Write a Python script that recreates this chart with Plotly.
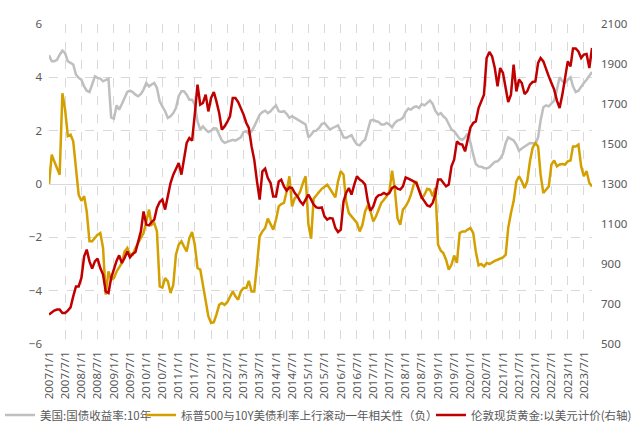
import pandas as pd
import plotly.graph_objects as go

# Monthly observations, 2007/1 .. 2023/10
us10y = [
    4.83, 4.6, 4.6, 4.66, 4.85, 5.0, 4.91, 4.6, 4.54, 4.48,
    4.1, 3.98, 3.91, 3.66, 3.5, 3.45, 3.73, 4.04, 3.98, 3.95,
    3.85, 3.91, 3.95, 2.5, 2.45, 2.95, 2.79, 3.0, 3.23, 3.45,
    3.5, 3.45, 3.35, 3.29, 3.38, 3.54, 3.79, 3.66, 3.73, 3.79,
    3.6, 3.1, 2.91, 2.73, 2.48, 2.54, 2.66, 2.85, 3.29, 3.48,
    3.48, 3.35, 3.16, 3.16, 2.98, 2.35, 2.04, 2.16, 2.04, 1.95,
    2.0, 2.1, 2.08, 1.88, 1.63, 1.54, 1.58, 1.63, 1.66, 1.63,
    1.7, 1.75, 1.95, 1.98, 1.88, 1.98, 2.16, 2.38, 2.6, 2.7,
    2.75, 2.66, 2.73, 2.85, 2.95, 2.73, 2.7, 2.73, 2.63, 2.48,
    2.54, 2.48, 2.41, 2.33, 2.29, 2.23, 1.75, 1.85, 1.98, 2.0,
    2.1, 2.25, 2.29, 2.16, 2.04, 2.1, 2.16, 2.2, 1.98, 1.75,
    1.73, 1.79, 1.83, 1.63, 1.48, 1.45, 1.58, 1.66, 2.04, 2.38,
    2.41, 2.35, 2.33, 2.23, 2.23, 2.29, 2.23, 2.13, 2.29, 2.38,
    2.41, 2.48, 2.7, 2.83, 2.79, 2.88, 2.91, 2.85, 3.0, 2.95,
    3.04, 3.13, 3.0, 2.75, 2.6, 2.66, 2.54, 2.45, 2.25, 2.04,
    1.98, 1.83, 1.7, 1.66, 1.75, 1.88, 1.54, 1.1, 0.75, 0.66,
    0.65, 0.6, 0.58, 0.63, 0.73, 0.83, 0.85, 0.95, 1.13, 1.54,
    1.75, 1.7, 1.63, 1.48, 1.25, 1.33, 1.41, 1.48, 1.54, 1.53,
    1.5, 1.75, 2.38, 2.88, 2.95, 2.91, 3.0, 3.13, 3.54, 4.0,
    3.85, 3.79, 3.91, 4.0, 3.66, 3.45, 3.5, 3.66, 3.79, 3.91, 4.08, 4.2,
]

corr = [
    0.0, 1.1, 0.85, 0.58, 0.35, 3.4, 2.8, 1.8, 1.85, 1.6,
    0.48, -0.4, -0.63, -0.46, -1.03, -2.15, -2.15, -2.0, -1.9, -1.84,
    -2.4, -4.15, -3.28, -3.59, -3.53, -3.28, -3.15, -2.96, -2.53, -2.4,
    -2.63, -2.65, -2.4, -2.21, -2.03, -1.84, -1.4, -0.96, -1.53, -1.46,
    -1.78, -3.84, -3.88, -3.53, -3.65, -4.09, -3.78, -2.65, -2.28, -2.15,
    -2.34, -2.53, -2.03, -1.8, -2.28, -3.15, -3.21, -3.78, -4.46, -4.96,
    -5.21, -5.18, -4.9, -4.53, -4.46, -4.53, -4.43, -4.21, -4.03, -4.21,
    -4.34, -4.03, -3.9, -3.9, -3.63, -4.03, -4.03, -3.03, -1.96, -1.78,
    -1.65, -1.3, -1.5, -1.71, -1.34, -0.84, -0.75, -0.71, -0.28, 0.29,
    -0.84, -0.53, -0.46, -0.28, 0.04, 0.29, -1.5, -2.05, -0.55, -0.4,
    -0.3, -0.18, -0.09, -0.03, -0.18, -0.34, -0.5, 0.1, 0.48, 0.35,
    -0.65, -1.09, -1.21, -1.34, -1.46, -1.78, -1.53, -1.03, -0.8, -1.03,
    -1.4, -1.21, -0.96, -0.71, -0.59, -0.46, -0.28, 0.5, -0.21, -1.28,
    -1.53, -0.96, -0.84, -0.65, -0.4, -0.03, 0.1, -0.21, -0.55, -0.4,
    -0.18, -0.21, -0.46, -0.15, -2.28, -2.5, -2.59, -2.84, -3.21, -3.03,
    -2.68, -2.96, -1.84, -1.78, -1.78, -1.71, -1.65, -1.84, -2.53, -3.05,
    -3.0, -3.09, -2.96, -3.0, -2.93, -2.88, -2.84, -2.78, -2.75, -2.65,
    -1.65, -1.09, -0.65, 0.1, 0.29, 0.1, -0.15, 0.1, 0.85, 1.35,
    1.54, 1.41, 0.35, -0.34, -0.21, -0.09, 0.73, 0.88, 0.66, 0.73,
    0.75, 0.73, 0.85, 0.88, 1.41, 1.41, 1.48, 0.66, 0.29, 0.48, 0.04, -0.09,
]

gold = [
    647, 660, 667, 672, 672, 655, 655, 667, 683, 738,
    788, 788, 830, 938, 972, 913, 877, 913, 927, 880,
    847, 763, 755, 830, 880, 917, 943, 905, 930, 963,
    933, 950, 960, 1013, 1063, 1163, 1097, 1093, 1110, 1122,
    1180, 1210, 1222, 1172, 1247, 1305, 1347, 1377, 1405, 1347,
    1422, 1505, 1530, 1517, 1647, 1797, 1697, 1705, 1747, 1663,
    1730, 1760, 1713, 1655, 1572, 1588, 1610, 1638, 1730, 1730,
    1710, 1680, 1647, 1605, 1580, 1488, 1422, 1313, 1222, 1363,
    1377, 1330, 1305, 1238, 1238, 1313, 1322, 1288, 1267, 1283,
    1280, 1255, 1238, 1213, 1197, 1222, 1247, 1222, 1197, 1183,
    1180, 1183, 1138, 1122, 1130, 1127, 1080, 1060, 1072, 1213,
    1255, 1280, 1247, 1297, 1338, 1322, 1313, 1297, 1213, 1167,
    1188, 1230, 1243, 1247, 1255, 1247, 1255, 1280, 1288, 1277,
    1272, 1288, 1333, 1327, 1322, 1313, 1305, 1272, 1233, 1213,
    1193, 1188, 1205, 1247, 1322, 1322, 1305, 1288, 1297, 1388,
    1422, 1513, 1500, 1497, 1463, 1522, 1583, 1605, 1613, 1680,
    1717, 1747, 1930, 1960, 1938, 1880, 1788, 1880, 1855, 1767,
    1710, 1747, 1897, 1763, 1822, 1805, 1750, 1763, 1797, 1810,
    1813, 1905, 1930, 1913, 1872, 1838, 1805, 1772, 1717, 1680,
    1747, 1822, 1913, 1888, 1977, 1977, 1963, 1930, 1947, 1950, 1880, 1980,
]

tick_labels = [
    "2007/1/1", "2007/7/1", "2008/1/1", "2008/7/1", "2009/1/1", "2009/7/1",
    "2010/1/1", "2010/7/1", "2011/1/1", "2011/7/1", "2012/1/1", "2012/7/1",
    "2013/1/1", "2013/7/1", "2014/1/1", "2014/7/1", "2015/1/1", "2015/7/1",
    "2016/1/1", "2016/7/1", "2017/1/1", "2017/7/1", "2018/1/1", "2018/7/1",
    "2019/1/1", "2019/7/1", "2020/1/1", "2020/7/1", "2021/1/1", "2021/7/1",
    "2022/1/1", "2022/7/1", "2023/1/1", "2023/7/1",
]

names = ["美国:国债收益率:10年", "标普500与10Y美债利率上行滚动一年相关性（负）", "伦敦现货黄金:以美元计价(右轴)"]
colors = ["#BFBFBF", "#D4A000", "#C00000"]

dates = pd.date_range("2007-01-01", periods=len(us10y), freq="MS")
tick_vals = pd.to_datetime(tick_labels, format="%Y/%m/%d")

fig = go.Figure()
fig.add_trace(go.Scatter(x=dates, y=us10y, name=names[0], mode="lines", legend="legend",
                         line=dict(color=colors[0], width=2.5)))
fig.add_trace(go.Scatter(x=dates, y=corr, name=names[1], mode="lines", legend="legend2",
                         line=dict(color=colors[1], width=2.5)))
fig.add_trace(go.Scatter(x=dates, y=gold, name=names[2], mode="lines", yaxis="y2", legend="legend3",
                         line=dict(color=colors[2], width=2.5)))

W, H = 634, 425
tick_font = dict(family="Noto Sans", size=11.5, color="#595959")
leg_common = dict(orientation="h", xref="container", yref="container",
                  xanchor="left", y=(H - 415) / H, yanchor="middle",
                  font=dict(family="Noto Sans CJK SC", size=11.5, color="#595959"),
                  itemwidth=30, bgcolor="rgba(0,0,0,0)", borderwidth=0)

fig.update_layout(
    width=W, height=H,
    margin=dict(l=49, r=42, t=24, b=81, autoexpand=False),
    paper_bgcolor="white", plot_bgcolor="white",
    font=dict(family="Noto Sans CJK SC", size=11, color="#595959"),
    showlegend=True,
    legend=dict(x=0, **leg_common),
    legend2=dict(x=141 / W, **leg_common),
    legend3=dict(x=431 / W, **leg_common),
    xaxis=dict(type="date", range=[dates[0], dates[-1]],
               tickmode="array", tickvals=tick_vals, ticktext=tick_labels,
               tickangle=-90, tickfont=tick_font, automargin=False,
               showgrid=True, gridcolor="#D9D9D9", griddash="dash", gridwidth=1,
               showline=False, zeroline=False, ticks="", ticklabelstandoff=4),
    yaxis=dict(range=[-6, 6], tickmode="linear", tick0=-6, dtick=2, automargin=False,
               tickfont=tick_font, showgrid=True, gridcolor="#D9D9D9",
               griddash="dash", gridwidth=1, zeroline=True, zerolinecolor="#D9D9D9",
               zerolinewidth=1, showline=False, ticks="", ticklabelstandoff=6),
    yaxis2=dict(range=[500, 2100], tickmode="linear", tick0=500, dtick=200,
                overlaying="y", side="right", tickfont=tick_font, automargin=False,
                showgrid=False, zeroline=False, showline=False, ticks="",
                ticklabelstandoff=8),
)

fig.write_html(
    "out.html",
    config={"displayModeBar": False},
    post_script="document.body.style.margin='0';document.body.style.overflow='hidden';",
)
